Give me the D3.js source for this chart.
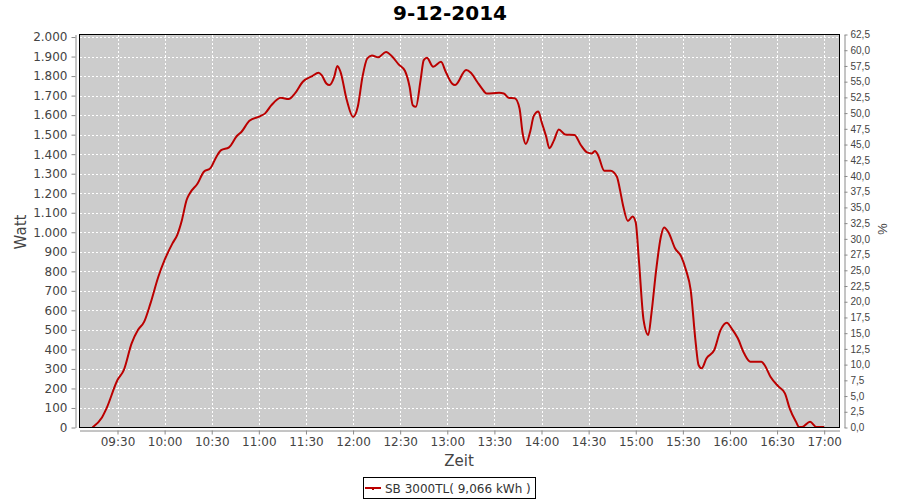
<!DOCTYPE html>
<html>
<head>
<meta charset="utf-8">
<script src="https://cdn.jsdelivr.net/npm/d3@7"></script>
<style>
  html, body { margin: 0; padding: 0; background: #ffffff; }
  svg { display: block; }
</style>
</head>
<body>
<div id="chart"></div>
<script>
// ---------- data ----------
const title = "9-12-2014";
const seriesName = "SB 3000TL( 9,066 kWh )";
const times = ["09:14","09:20","09:23","09:30","09:34","09:39","09:43","09:47","09:51","09:56",
  "10:00","10:05","10:08","10:11","10:14","10:16","10:21","10:25","10:29","10:33",
  "10:36","10:41","10:46","10:49","10:54","11:01","11:04","11:08","11:14","11:19",
  "11:23","11:28","11:34","11:38","11:40","11:43","11:45","11:48","11:50","11:52",
  "11:56","12:00","12:03","12:06","12:09","12:12","12:16","12:21","12:25","12:29",
  "12:33","12:36","12:38","12:40","12:43","12:45","12:47","12:51","12:56","12:59",
  "13:03","13:05","13:12","13:15","13:19","13:22","13:25","13:33","13:36","13:39",
  "13:43","13:46","13:48","13:50","13:53","13:55","13:58","14:00","14:03","14:05",
  "14:08","14:11","14:15","14:21","14:25","14:29","14:32","14:34","14:36","14:40",
  "14:44","14:48","14:50","14:52","14:55","14:58","15:00","15:02","15:05","15:08",
  "15:10","15:13","15:16","15:18","15:21","15:25","15:29","15:32","15:35","15:38",
  "15:40","15:42","15:45","15:50","15:54","15:58","16:01","16:05","16:09","16:13",
  "16:20","16:22","16:26","16:31","16:35","16:38","16:42","16:44","16:46","16:51",
  "16:55","17:00"];
const watts = [0,50,98,243,294,431,499,542,636,772,
  858,943,986,1062,1165,1199,1250,1310,1327,1387,
  1421,1435,1493,1515,1571,1595,1609,1651,1689,1682,
  1711,1771,1800,1817,1805,1762,1754,1796,1852,1822,
  1677,1591,1643,1796,1890,1906,1896,1924,1899,1860,
  1827,1745,1651,1643,1779,1882,1894,1848,1873,1822,
  1762,1754,1831,1817,1771,1737,1711,1714,1711,1689,
  1686,1634,1506,1452,1523,1595,1619,1566,1489,1430,
  1472,1527,1501,1498,1447,1409,1404,1416,1395,1315,
  1315,1284,1216,1135,1058,1081,1050,858,550,474,
  585,806,977,1025,998,918,875,806,704,448,
  320,303,354,397,499,537,508,457,380,337,
  337,320,257,209,175,98,30,3,3,30,
  3,3];
const xTickLabels = ["09:30","10:00","10:30","11:00","11:30","12:00","12:30","13:00","13:30","14:00","14:30","15:00","15:30","16:00","16:30","17:00"];
const leftTicks = [0,100,200,300,400,500,600,700,800,900,1000,1100,1200,1300,1400,1500,1600,1700,1800,1900,2000];
const rightTicks = [0,2.5,5,7.5,10,12.5,15,17.5,20,22.5,25,27.5,30,32.5,35,37.5,40,42.5,45,47.5,50,52.5,55,57.5,60,62.5];
const xStart = "09:05:48", xEnd = "17:09:45";
const leftMax = 2013, rightMax = 62.5;

// ---------- setup ----------
const W = 900, H = 500;
const P = { l: 79.5, t: 34.5, r: 839.5, b: 427.5 };
const lineColor = "#bb0000";
const tickColor = "#444444";
const axisColor = "#8a8a8a";

const parseT = d3.timeParse("%H:%M");
const parseS = d3.timeParse("%H:%M:%S");
const data = times.map((t, i) => ({ t: parseT(t), v: watts[i] }));

const de = d3.formatLocale({ decimal: ",", thousands: ".", grouping: [3], currency: ["", "€"] });
const fmtL = de.format(",d");
const fmtR = de.format(".1f");

const svg = d3.select("#chart").append("svg").attr("width", W).attr("height", H);

const x = d3.scaleTime().domain([parseS(xStart), parseS(xEnd)]).range([P.l, P.r]);
const yL = d3.scaleLinear().domain([0, leftMax]).range([P.b, P.t]);
const yR = d3.scaleLinear().domain([0, rightMax]).range([P.b, P.t]);
const xTicks = xTickLabels.map(parseT);

// plot background
svg.append("rect").attr("x", P.l).attr("y", P.t).attr("width", P.r - P.l).attr("height", P.b - P.t)
  .attr("fill", "#cccccc");

// gridlines
const grid = svg.append("g").attr("stroke", "#ffffff").attr("stroke-width", 1)
  .attr("stroke-dasharray", "2,2").attr("shape-rendering", "crispEdges");
grid.selectAll("line.h").data(leftTicks.filter(d => d > 0)).join("line").attr("class", "h")
  .attr("x1", P.l).attr("x2", P.r)
  .attr("y1", d => Math.round(yL(d)) + 0.5).attr("y2", d => Math.round(yL(d)) + 0.5);
grid.selectAll("line.v").data(xTicks).join("line").attr("class", "v")
  .attr("y1", P.t).attr("y2", P.b)
  .attr("x1", d => Math.round(x(d)) + 0.5).attr("x2", d => Math.round(x(d)) + 0.5);

// line
const clipId = "plotclip";
svg.append("clipPath").attr("id", clipId).append("rect")
  .attr("x", P.l).attr("y", P.t).attr("width", P.r - P.l).attr("height", P.b - P.t);
svg.append("path").datum(data)
  .attr("clip-path", `url(#${clipId})`)
  .attr("fill", "none").attr("stroke", lineColor).attr("stroke-width", 2)
  .attr("stroke-linejoin", "round")
  .attr("d", d3.line().curve(d3.curveMonotoneX).x(d => x(d.t)).y(d => yL(d.v)));

// outline
svg.append("rect").attr("x", P.l).attr("y", P.t).attr("width", P.r - P.l).attr("height", P.b - P.t)
  .attr("fill", "none").attr("stroke", "#000000").attr("stroke-width", 1).attr("shape-rendering", "crispEdges");

function styleAxis(g, font, size) {
  g.select(".domain").attr("stroke", axisColor);
  g.selectAll(".tick line").attr("stroke", axisColor);
  g.selectAll(".tick text").attr("fill", tickColor).attr("font-family", font).attr("font-size", size);
}

// left axis
const gL = svg.append("g").attr("transform", "translate(75.5,0)")
  .call(d3.axisLeft(yL).tickValues(leftTicks).tickFormat(fmtL).tickSize(4).tickSizeOuter(0).tickPadding(4));
styleAxis(gL, "DejaVu Sans", 12);

// right axis
const gR = svg.append("g").attr("transform", "translate(844.5,0)")
  .call(d3.axisRight(yR).tickValues(rightTicks).tickFormat(fmtR).tickSize(3).tickSizeOuter(0).tickPadding(3));
styleAxis(gR, "Liberation Sans", 10);

// bottom axis
const gB = svg.append("g").attr("transform", "translate(0,430.5)")
  .call(d3.axisBottom(x).tickValues(xTicks).tickFormat(d3.timeFormat("%H:%M")).tickSize(4).tickSizeOuter(0).tickPadding(3));
styleAxis(gB, "DejaVu Sans", 12);

// title
svg.append("text").attr("x", 450).attr("y", 20).attr("text-anchor", "middle")
  .attr("font-family", "DejaVu Sans").attr("font-weight", "bold").attr("font-size", 20)
  .attr("fill", "#000000").text(title);

// axis labels
svg.append("text").attr("transform", "translate(25.5,232) rotate(-90)").attr("text-anchor", "middle")
  .attr("font-family", "DejaVu Sans").attr("font-size", 15).attr("fill", tickColor).text("Watt");
svg.append("text").attr("x", 459).attr("y", 466).attr("text-anchor", "middle")
  .attr("font-family", "DejaVu Sans").attr("font-size", 15).attr("fill", tickColor).text("Zeit");
svg.append("text").attr("transform", "translate(877.5,229) rotate(90)").attr("text-anchor", "middle")
  .attr("font-family", "Liberation Sans").attr("font-size", 13).attr("fill", tickColor).text("%");

// legend
const lg = svg.append("g");
lg.append("rect").attr("x", 363.5).attr("y", 477.5).attr("width", 172).attr("height", 21)
  .attr("fill", "#ffffff").attr("stroke", "#000000").attr("stroke-width", 1).attr("shape-rendering", "crispEdges");
lg.append("line").attr("x1", 365).attr("x2", 381).attr("y1", 488).attr("y2", 488)
  .attr("stroke", lineColor).attr("stroke-width", 2);
lg.append("rect").attr("x", 372).attr("y", 488).attr("width", 2).attr("height", 2).attr("fill", lineColor);
lg.append("text").attr("x", 385).attr("y", 492.5)
  .attr("font-family", "DejaVu Sans").attr("font-size", 12).attr("fill", "#333333").text(seriesName);
</script>
</body>
</html>
